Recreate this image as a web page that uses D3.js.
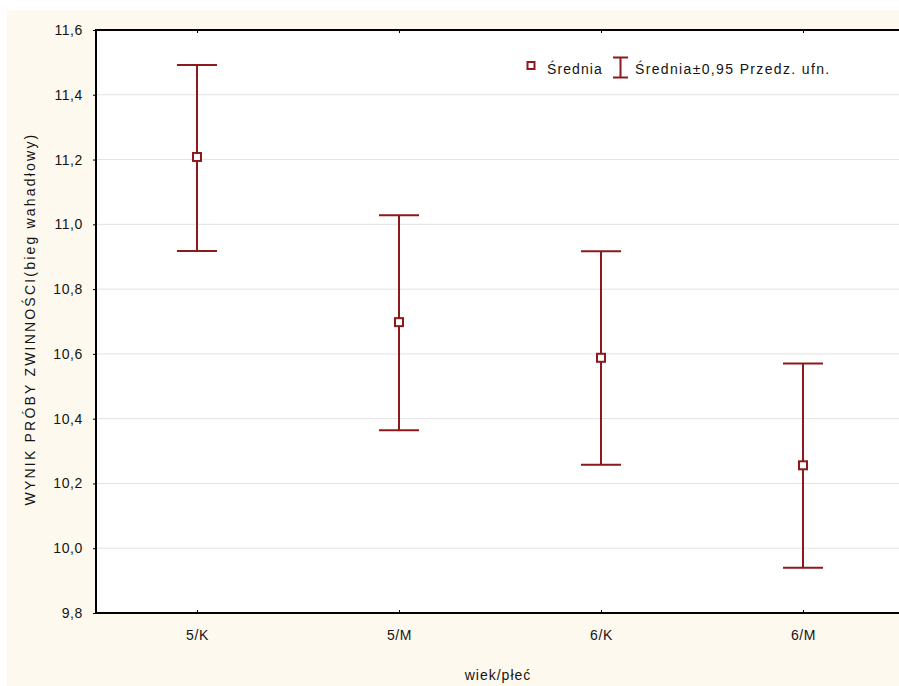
<!DOCTYPE html>
<html>
<head>
<meta charset="utf-8">
<script src="https://cdn.jsdelivr.net/npm/d3@7"></script>
<style>
  body { margin: 0; background: #ffffff; }
  svg { display: block; font-family: "Liberation Sans", Arial, sans-serif; }
</style>
</head>
<body>
<script>
//Data
const groups = ["5/K", "5/M", "6/K", "6/M"];
const means = [11.208, 10.698, 10.588, 10.256];
const lower = [10.918, 10.364, 10.258, 9.940];
const upper = [11.492, 11.028, 10.917, 10.570];
const yTicks = [9.8, 10.0, 10.2, 10.4, 10.6, 10.8, 11.0, 11.2, 11.4, 11.6];

//Variables
const width = 899;
const height = 686;
const plotLeft = 96, plotTop = 30, plotBottom = 613, plotRight = 904;
const red = "#8c1a1c";
const textColor = "#141414";

const svg = d3.select("body")
    .append("svg")
    .attr("width", width)
    .attr("height", height);

//Background
svg.append("rect")
    .attr("x", 7).attr("y", 10)
    .attr("width", width - 7).attr("height", height - 10)
    .attr("fill", "#fef9ee");

svg.append("rect")
    .attr("x", plotLeft).attr("y", plotTop)
    .attr("width", plotRight - plotLeft).attr("height", plotBottom - plotTop)
    .attr("fill", "#ffffff");

//Scales
const xScale = d3.scalePoint()
    .domain(groups)
    .range([plotLeft, plotRight])
    .padding(0.5);

const yScale = d3.scaleLinear()
    .domain([9.8, 11.6])
    .range([plotBottom, plotTop]);

const fmt = d => d3.format(".1f")(d).replace(".", ",");

//Grid
svg.append("g")
    .selectAll("line")
    .data(yTicks.slice(1, -1))
    .enter()
    .append("line")
    .attr("x1", plotLeft).attr("x2", plotRight)
    .attr("y1", d => yScale(d)).attr("y2", d => yScale(d))
    .attr("stroke", "#e2e2e2")
    .attr("stroke-width", 1);

//Y axis
const yAxis = d3.axisLeft(yScale)
    .tickValues(yTicks)
    .tickFormat(fmt)
    .tickSize(3)
    .tickPadding(10);

svg.append("g")
    .attr("transform", `translate(${plotLeft}, 0)`)
    .call(yAxis)
    .call(g => g.select(".domain").remove())
    .call(g => g.selectAll("text")
        .attr("fill", textColor)
        .style("font-size", "14px")
        .style("letter-spacing", "0.6px"))
    .call(g => g.selectAll("line").attr("stroke", "#000"));

//X axis
const xAxis = d3.axisBottom(xScale)
    .tickSize(-3)
    .tickPadding(17);

svg.append("g")
    .attr("transform", `translate(0, ${plotBottom})`)
    .call(xAxis)
    .call(g => g.select(".domain").remove())
    .call(g => g.selectAll("text")
        .attr("fill", textColor)
        .style("font-size", "14px")
        .style("letter-spacing", "0.6px"))
    .call(g => g.selectAll("line").attr("stroke", "#000"));

svg.append("g")
    .attr("transform", `translate(0, ${plotTop})`)
    .call(d3.axisTop(xScale).tickSize(-3).tickFormat(""))
    .call(g => g.select(".domain").remove())
    .call(g => g.selectAll("line").attr("stroke", "#000"));

//Frame
svg.append("path")
    .attr("d", `M${plotRight},${plotTop}H${plotLeft}V${plotBottom}H${plotRight}`)
    .attr("fill", "none")
    .attr("stroke", "#000")
    .attr("stroke-width", 2);

//Titles
svg.append("text")
    .text("wiek/płeć")
    .attr("x", 498)
    .attr("y", 680)
    .attr("text-anchor", "middle")
    .style("font-size", "14px")
    .style("letter-spacing", "1px")
    .attr("fill", textColor);

svg.append("text")
    .text("WYNIK PRÓBY ZWINNOŚCI(bieg wahadłowy)")
    .attr("transform", "translate(35, 319) rotate(-90)")
    .attr("text-anchor", "middle")
    .style("font-size", "14px")
    .style("letter-spacing", "2.2px")
    .attr("fill", textColor);

//Error bars
const bars = svg.append("g")
    .selectAll("g")
    .data(groups)
    .enter()
    .append("g");

bars.append("line")
    .attr("x1", d => xScale(d)).attr("x2", d => xScale(d))
    .attr("y1", (d, i) => yScale(upper[i]))
    .attr("y2", (d, i) => yScale(lower[i]))
    .attr("stroke", red).attr("stroke-width", 2);

[upper, lower].forEach(arr => {
    bars.append("line")
        .attr("x1", d => xScale(d) - 20).attr("x2", d => xScale(d) + 20)
        .attr("y1", (d, i) => yScale(arr[i]))
        .attr("y2", (d, i) => yScale(arr[i]))
        .attr("stroke", red).attr("stroke-width", 2);
});

bars.append("rect")
    .attr("x", d => xScale(d) - 4)
    .attr("y", (d, i) => yScale(means[i]) - 4)
    .attr("width", 8).attr("height", 8)
    .attr("fill", "#fff")
    .attr("stroke", red).attr("stroke-width", 2);

//Legend
const legend = svg.append("g");
legend.append("rect")
    .attr("x", 527.5).attr("y", 62)
    .attr("width", 7).attr("height", 7)
    .attr("fill", "#fff")
    .attr("stroke", red).attr("stroke-width", 2);
legend.append("text")
    .text("Średnia")
    .attr("x", 547).attr("y", 74)
    .style("font-size", "14px")
    .style("letter-spacing", "1.1px")
    .attr("fill", textColor);
legend.append("path")
    .attr("d", "M613,57.5H628M620.5,57.5V77.5M613,77.5H628")
    .attr("fill", "none")
    .attr("stroke", red).attr("stroke-width", 2);
legend.append("text")
    .text("Średnia±0,95 Przedz. ufn.")
    .attr("x", 635).attr("y", 74)
    .style("font-size", "14px")
    .style("letter-spacing", "1.35px")
    .attr("fill", textColor);
</script>
</body>
</html>
